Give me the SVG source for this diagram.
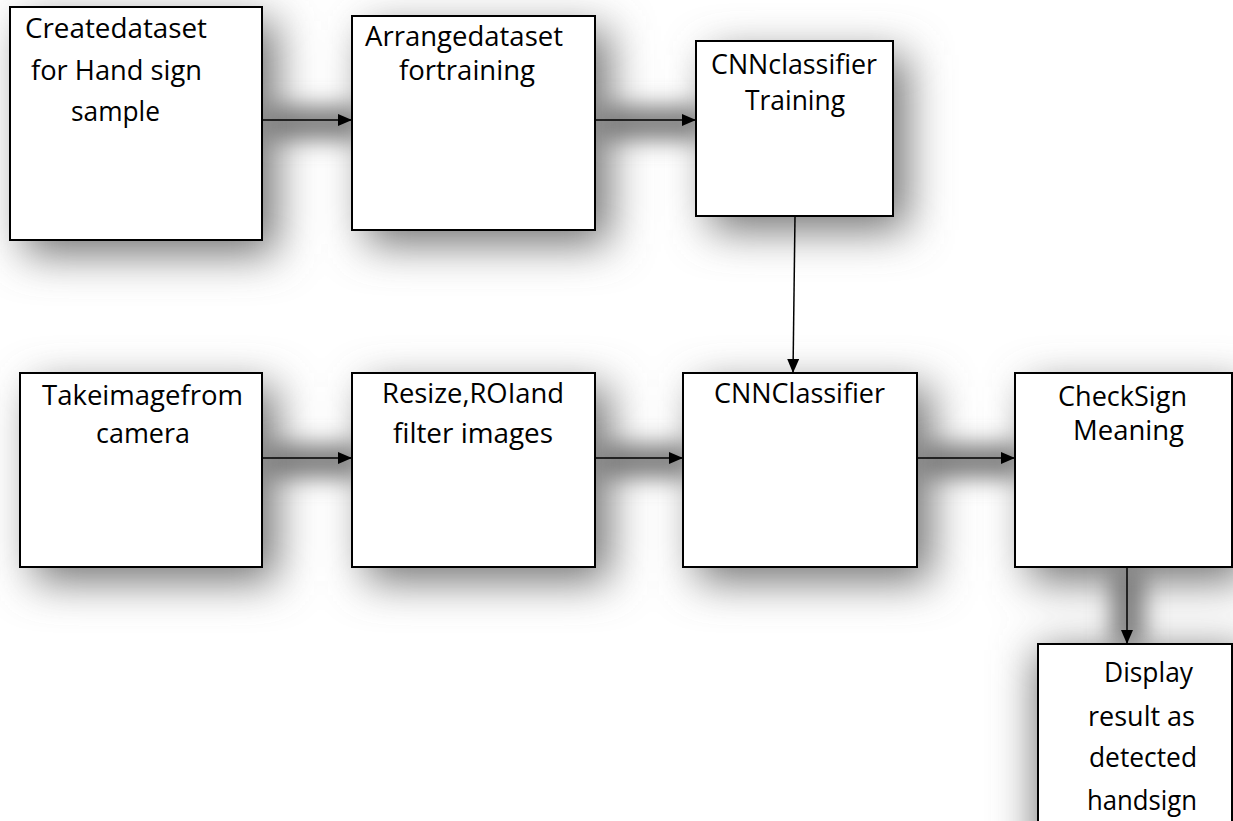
<svg xmlns="http://www.w3.org/2000/svg" width="1233" height="821" viewBox="0 0 1233 821">
<style>
.box{fill:#ffffff;stroke:#000000;stroke-width:2}
.lbl{font-family:"Open Sans","Noto Sans","Liberation Sans",sans-serif;font-size:27px;fill:#000000}
.conn{stroke:#000000;stroke-width:1.5;fill:none;marker-end:url(#ah)}
.bsh{fill:#727272}
.lsh{fill:#767676}
</style>
<defs>
<filter id="blurBox" filterUnits="userSpaceOnUse" x="-100" y="-100" width="1450" height="1050">
<feGaussianBlur stdDeviation="22"/>
</filter>
<filter id="blurLine" filterUnits="userSpaceOnUse" x="-100" y="-100" width="1450" height="1050">
<feGaussianBlur stdDeviation="12"/>
</filter>
<marker id="ah" markerWidth="14" markerHeight="12" refX="14" refY="6" orient="auto" markerUnits="userSpaceOnUse">
<path d="M0,0 L14,6 L0,12 z" fill="#000000"/>
</marker>
</defs>
<rect x="0" y="0" width="1233" height="821" fill="#ffffff"/>
<g id="shadows" filter="url(#blurBox)">
<rect class="bsh" x="24" y="21" width="252" height="233"/>
<rect class="bsh" x="366" y="30" width="243" height="214"/>
<rect class="bsh" x="710" y="55" width="197" height="175"/>
<rect class="bsh" x="34" y="387" width="242" height="194"/>
<rect class="bsh" x="366" y="387" width="243" height="194"/>
<rect class="bsh" x="697" y="387" width="234" height="194"/>
<rect class="bsh" x="1029" y="387" width="217" height="194"/>
<rect class="bsh" x="1036" y="650" width="214" height="220"/>
</g>
<g id="line-shadows" filter="url(#blurLine)">
<rect class="lsh" x="262" y="107" width="100" height="32"/>
<rect class="lsh" x="595" y="107" width="111" height="32"/>
<rect class="lsh" x="262" y="445" width="100" height="32"/>
<rect class="lsh" x="595" y="445" width="98" height="32"/>
<rect class="lsh" x="917" y="445" width="108" height="32"/>
<rect class="lsh" x="1112" y="567" width="32" height="80"/>
</g>
<g id="node-create-dataset">
<rect class="box" x="10" y="7" width="252" height="233"/>
<text class="lbl" x="25" y="38" textLength="182" lengthAdjust="spacingAndGlyphs">Createdataset</text>
<text class="lbl" x="31" y="80" textLength="171" lengthAdjust="spacingAndGlyphs">for Hand sign</text>
<text class="lbl" x="71" y="121" textLength="89" lengthAdjust="spacingAndGlyphs">sample</text>
</g>
<g id="node-arrange-dataset">
<rect class="box" x="352" y="16" width="243" height="214"/>
<text class="lbl" x="365" y="46" textLength="198" lengthAdjust="spacingAndGlyphs">Arrangedataset</text>
<text class="lbl" x="399" y="80" textLength="136" lengthAdjust="spacingAndGlyphs">fortraining</text>
</g>
<g id="node-cnn-training">
<rect class="box" x="696" y="41" width="197" height="175"/>
<text class="lbl" x="711" y="74" textLength="166" lengthAdjust="spacingAndGlyphs">CNNclassifier</text>
<text class="lbl" x="745" y="110" textLength="100" lengthAdjust="spacingAndGlyphs">Training</text>
</g>
<g id="node-take-image">
<rect class="box" x="20" y="373" width="242" height="194"/>
<text class="lbl" x="42" y="405" textLength="201" lengthAdjust="spacingAndGlyphs">Takeimagefrom</text>
<text class="lbl" x="96" y="443" textLength="94" lengthAdjust="spacingAndGlyphs">camera</text>
</g>
<g id="node-resize">
<rect class="box" x="352" y="373" width="243" height="194"/>
<text class="lbl" x="382" y="403" textLength="182" lengthAdjust="spacingAndGlyphs">Resize,ROIand</text>
<text class="lbl" x="393" y="443" textLength="160" lengthAdjust="spacingAndGlyphs">filter images</text>
</g>
<g id="node-cnn-classifier">
<rect class="box" x="683" y="373" width="234" height="194"/>
<text class="lbl" x="714" y="403" textLength="171" lengthAdjust="spacingAndGlyphs">CNNClassifier</text>
</g>
<g id="node-check-sign">
<rect class="box" x="1015" y="373" width="217" height="194"/>
<text class="lbl" x="1058" y="406" textLength="129" lengthAdjust="spacingAndGlyphs">CheckSign</text>
<text class="lbl" x="1073" y="440" textLength="111" lengthAdjust="spacingAndGlyphs">Meaning</text>
</g>
<g id="node-display">
<rect class="box" x="1038" y="644" width="194" height="200"/>
<text class="lbl" x="1104" y="682" textLength="89" lengthAdjust="spacingAndGlyphs">Display</text>
<text class="lbl" x="1088" y="726" textLength="107" lengthAdjust="spacingAndGlyphs">result as</text>
<text class="lbl" x="1089" y="767" textLength="108" lengthAdjust="spacingAndGlyphs">detected</text>
<text class="lbl" x="1087" y="810" textLength="110" lengthAdjust="spacingAndGlyphs">handsign</text>
</g>
<g id="connectors">
<line class="conn" x1="262" y1="120" x2="352" y2="120"/>
<line class="conn" x1="595" y1="120" x2="696" y2="120"/>
<line class="conn" x1="795" y1="216" x2="793" y2="373"/>
<line class="conn" x1="262" y1="458" x2="352" y2="458"/>
<line class="conn" x1="595" y1="458" x2="683" y2="458"/>
<line class="conn" x1="917" y1="458" x2="1015" y2="458"/>
<line class="conn" x1="1127" y1="567" x2="1127" y2="644"/>
</g>
</svg>
